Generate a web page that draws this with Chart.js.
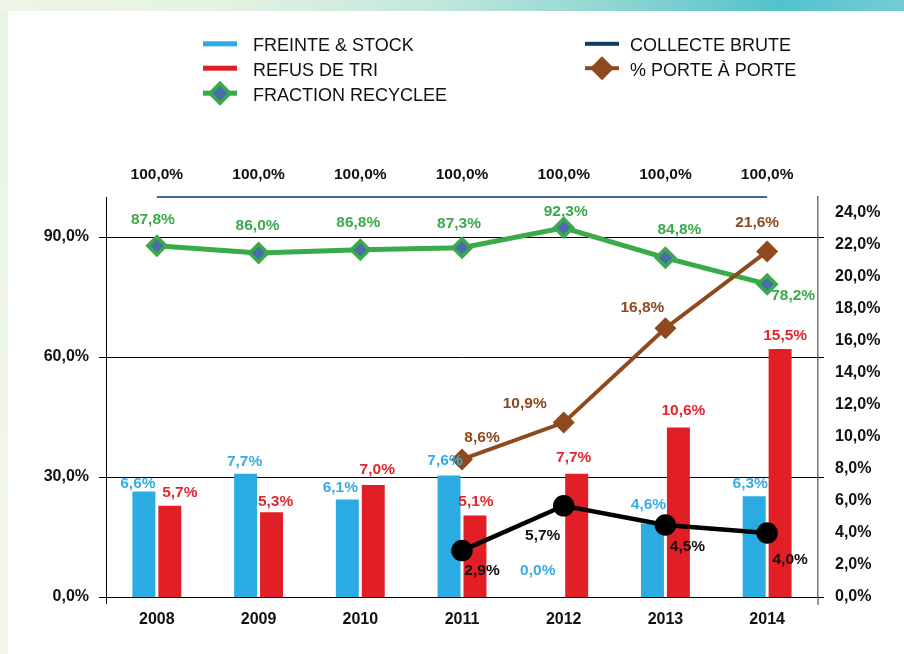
<!DOCTYPE html>
<html><head><meta charset="utf-8">
<script src="https://cdn.jsdelivr.net/npm/chart.js@4"></script>
<style>
html,body{margin:0;padding:0;}
body{width:904px;height:654px;position:relative;overflow:hidden;background:linear-gradient(to bottom,#eaf4e2,#f3f8ee);}
#top{position:absolute;left:0;top:0;width:904px;height:11px;background:linear-gradient(to right,#eef6e6 0%,#e4f2e2 25%,#c2e7dc 48%,#8fd5d1 68%,#52c3cb 86%,#74ccd6 100%);}
#panel{position:absolute;left:8px;top:11px;right:0;bottom:0;background:#fff;}
canvas{position:absolute;left:0;top:0;}
</style></head><body>
<div id="top"></div><div id="panel"></div>
<canvas id="c" width="904" height="654"></canvas>
<script>
// ---- data ----
const years = ['2008','2009','2010','2011','2012','2013','2014'];
const freinteStock = [6.6, 7.7, 6.1, 7.6, 0.0, 4.6, 6.3];
const refusDeTri = [5.7, 5.3, 7.0, 5.1, 7.7, 10.6, 15.5];
const fractionRecyclee = [87.8, 86.0, 86.8, 87.3, 92.3, 84.8, 78.2];
const collecteBrute = [100, 100, 100, 100, 100, 100, 100];
const porteAPorte = [null, null, null, 8.6, 10.9, 16.8, 21.6];
const serie6 = [null, null, null, 2.9, 5.7, 4.5, 4.0];
const leftTicks = [0, 30, 60, 90];
const rightTicks = [0, 2, 4, 6, 8, 10, 12, 14, 16, 18, 20, 22, 24];

// ---- label nudges (style only) ----
const nudgeBlue  = [[-6,-3],[-1,-8],[-7,-7],[-4,-10],[-13,-22],[-4,-14],[-4,-8]];
const nudgeRed   = [[10,-9],[4,-6],[4,-11],[1,-9],[-3,-12],[5,-12],[5,-9]];
const nudgeGreen = [[-4,-22],[-1,-23],[-2,-23],[-3,-20],[2,-12],[14,-24],[26,16]];
const nudgeBrown = [null,null,null,[20,-17],[-39,-15],[-23,-16],[-10,-24]];
const nudgeBlack = [null,null,null,[20,24],[-21,34],[22,26],[23,31]];
const nudgeTop   = [[0,-18],[0,-18],[0,-18],[0,-18],[0,-18],[0,-18],[0,-18]];

const FAM = '"Liberation Sans", Arial, Helvetica, sans-serif';
const C = {blue:'#2aabe1', red:'#e21f26', green:'#3aaa4a', brown:'#8e491c', navy:'#0f3b66', line:'#3d6a9b', fill:'#4a6fa8'};
const fmt = v => v.toFixed(1).replace('.', ',') + '%';

const extras = {
  id: 'extras',
  afterDatasetsDraw(chart) {
    const ctx = chart.ctx;
    const specs = [
      [0, '#111', nudgeTop],
      [1, '#8e491c', nudgeBrown],
      [2, '#3aaa4a', nudgeGreen],
      [3, '#111', nudgeBlack],
      [4, '#36ade3', nudgeBlue],
      [5, '#e3262d', nudgeRed]
    ];
    ctx.save();
    ctx.font = 'bold 15.5px ' + FAM;
    ctx.textAlign = 'center';
    ctx.textBaseline = 'alphabetic';
    for (const [di, color, nudge] of specs) {
      const ds = chart.data.datasets[di];
      const meta = chart.getDatasetMeta(di);
      ctx.fillStyle = color;
      meta.data.forEach((el, i) => {
        const v = ds.data[i];
        if (v === null || v === undefined || !nudge[i]) return;
        ctx.fillText(fmt(v), el.x + nudge[i][0], el.y + nudge[i][1]);
      });
    }
    ctx.restore();
  },
  afterDraw(chart) {
    const ctx = chart.ctx;
    const a = chart.chartArea;
    const ys = chart.scales.y;
    ctx.save();
    // axis extensions below baseline
    ctx.lineWidth = 1;
    ctx.strokeStyle = '#000';
    const lx = Math.round(a.left) + 0.5;
    ctx.beginPath(); ctx.moveTo(lx, a.bottom); ctx.lineTo(lx, a.bottom + 7); ctx.stroke();
    ctx.strokeStyle = '#777'; ctx.lineWidth = 1.5;
    ctx.beginPath(); ctx.moveTo(a.right, a.bottom); ctx.lineTo(a.right, a.bottom + 8); ctx.stroke();
    // grid extension past right axis
    ctx.strokeStyle = '#000'; ctx.lineWidth = 1;
    leftTicks.forEach(t => {
      const y = Math.round(ys.getPixelForValue(t)) + 0.5;
      ctx.beginPath(); ctx.moveTo(a.right, y); ctx.lineTo(a.right + 6, y); ctx.stroke();
    });
    // legend
    ctx.font = '18px ' + FAM;
    ctx.textAlign = 'left';
    ctx.textBaseline = 'alphabetic';
    ctx.fillStyle = '#111';
    const rows = [51.3, 75.7, 100.7];
    const col1 = {sx: 203, tx: 253}, col2 = {sx: 585, tx: 630};
    function bar(col, yb, color, th) {
      ctx.fillStyle = color;
      ctx.fillRect(col.sx, yb - 7.5 - th / 2, 34, th);
    }
    function diamond(cx, cy, r, fill, stroke, bw) {
      ctx.beginPath();
      ctx.moveTo(cx - r, cy); ctx.lineTo(cx, cy - r); ctx.lineTo(cx + r, cy); ctx.lineTo(cx, cy + r); ctx.closePath();
      ctx.fillStyle = fill; ctx.fill();
      if (bw) { ctx.lineWidth = bw; ctx.strokeStyle = stroke; ctx.stroke(); }
    }
    bar(col1, rows[0], C.blue, 5);
    bar(col1, rows[1], C.red, 5);
    bar(col1, rows[2], C.green, 5);
    diamond(col1.sx + 17, rows[2] - 7.5, 10, C.fill, C.green, 3.5);
    bar(col2, rows[0], C.navy, 4);
    bar(col2, rows[1], C.brown, 4);
    diamond(col2.sx + 17, rows[1] - 7.5, 12, C.brown, C.brown, 0);
    ctx.fillStyle = '#111';
    ctx.fillText('FREINTE & STOCK', col1.tx, rows[0]);
    ctx.fillText('REFUS DE TRI', col1.tx, rows[1]);
    ctx.fillText('FRACTION RECYCLEE', col1.tx, rows[2]);
    ctx.fillText('COLLECTE BRUTE', col2.tx, rows[0]);
    ctx.fillText('% PORTE À PORTE', col2.tx, rows[1]);
    ctx.restore();
  }
};

new Chart(document.getElementById('c'), {
  data: {
    labels: years,
    datasets: [
      {type:'line', label:'COLLECTE BRUTE', data: collecteBrute, yAxisID:'y', borderColor:C.line, borderWidth:2, pointRadius:0, clip:false, order:5},
      {type:'line', label:'% PORTE À PORTE', data: porteAPorte, yAxisID:'y1', borderColor:C.brown, backgroundColor:C.brown, borderWidth:4, pointStyle:'rectRot', pointRadius:11, pointBorderWidth:0, pointBackgroundColor:C.brown, clip:false, order:1},
      {type:'line', label:'FRACTION RECYCLEE', data: fractionRecyclee, yAxisID:'y', borderColor:C.green, borderWidth:5, pointStyle:'rectRot', pointRadius:9, pointBorderWidth:3.5, pointBackgroundColor:C.fill, pointBorderColor:C.green, clip:false, order:2},
      {type:'line', label:'Série 6', data: serie6, yAxisID:'y1', borderColor:'#000', backgroundColor:'#000', borderWidth:4.5, pointRadius:8.5, pointBackgroundColor:'#000', pointBorderColor:'#000', clip:false, order:3},
      {type:'bar', label:'FREINTE & STOCK', data: freinteStock, yAxisID:'y1', backgroundColor:C.blue, categoryPercentage:0.51, barPercentage:0.885, order:10},
      {type:'bar', label:'REFUS DE TRI', data: refusDeTri, yAxisID:'y1', backgroundColor:C.red, categoryPercentage:0.51, barPercentage:0.885, order:10}
    ]
  },
  options: {
    responsive: false,
    animation: false,
    devicePixelRatio: 1,
    layout: {padding: {top: 197, left: 0, right: 0, bottom: 0}},
    plugins: {legend: {display: false}, tooltip: {enabled: false}},
    scales: {
      x: {
        grid: {display: false, drawTicks: false},
        border: {display: false},
        ticks: {color: '#111', padding: 13, font: {family: FAM, size: 16, weight: 'bold'}},
        afterFit: s => { s.height = 57; }
      },
      y: {
        position: 'left', min: 0, max: 100,
        afterBuildTicks: s => { s.ticks = leftTicks.map(v => ({value: v})); },
        ticks: {color: '#111', padding: 10, callback: v => fmt(v), font: {family: FAM, size: 16, weight: 'bold'}},
        grid: {color: '#000', lineWidth: 1, drawTicks: true, tickLength: 7},
        border: {display: true, color: '#000', width: 1},
        afterFit: s => { s.width = 106; }
      },
      y1: {
        position: 'right', min: 0, max: 25,
        afterBuildTicks: s => { s.ticks = rightTicks.map(v => ({value: v})); },
        ticks: {color: '#111', padding: 17, callback: v => fmt(v), font: {family: FAM, size: 16, weight: 'bold'}},
        grid: {display: false, drawTicks: false, drawOnChartArea: false},
        border: {display: true, color: '#777', width: 1.5},
        afterFit: s => { s.width = 86; }
      }
    }
  },
  plugins: [extras]
});
</script>
</body></html>
